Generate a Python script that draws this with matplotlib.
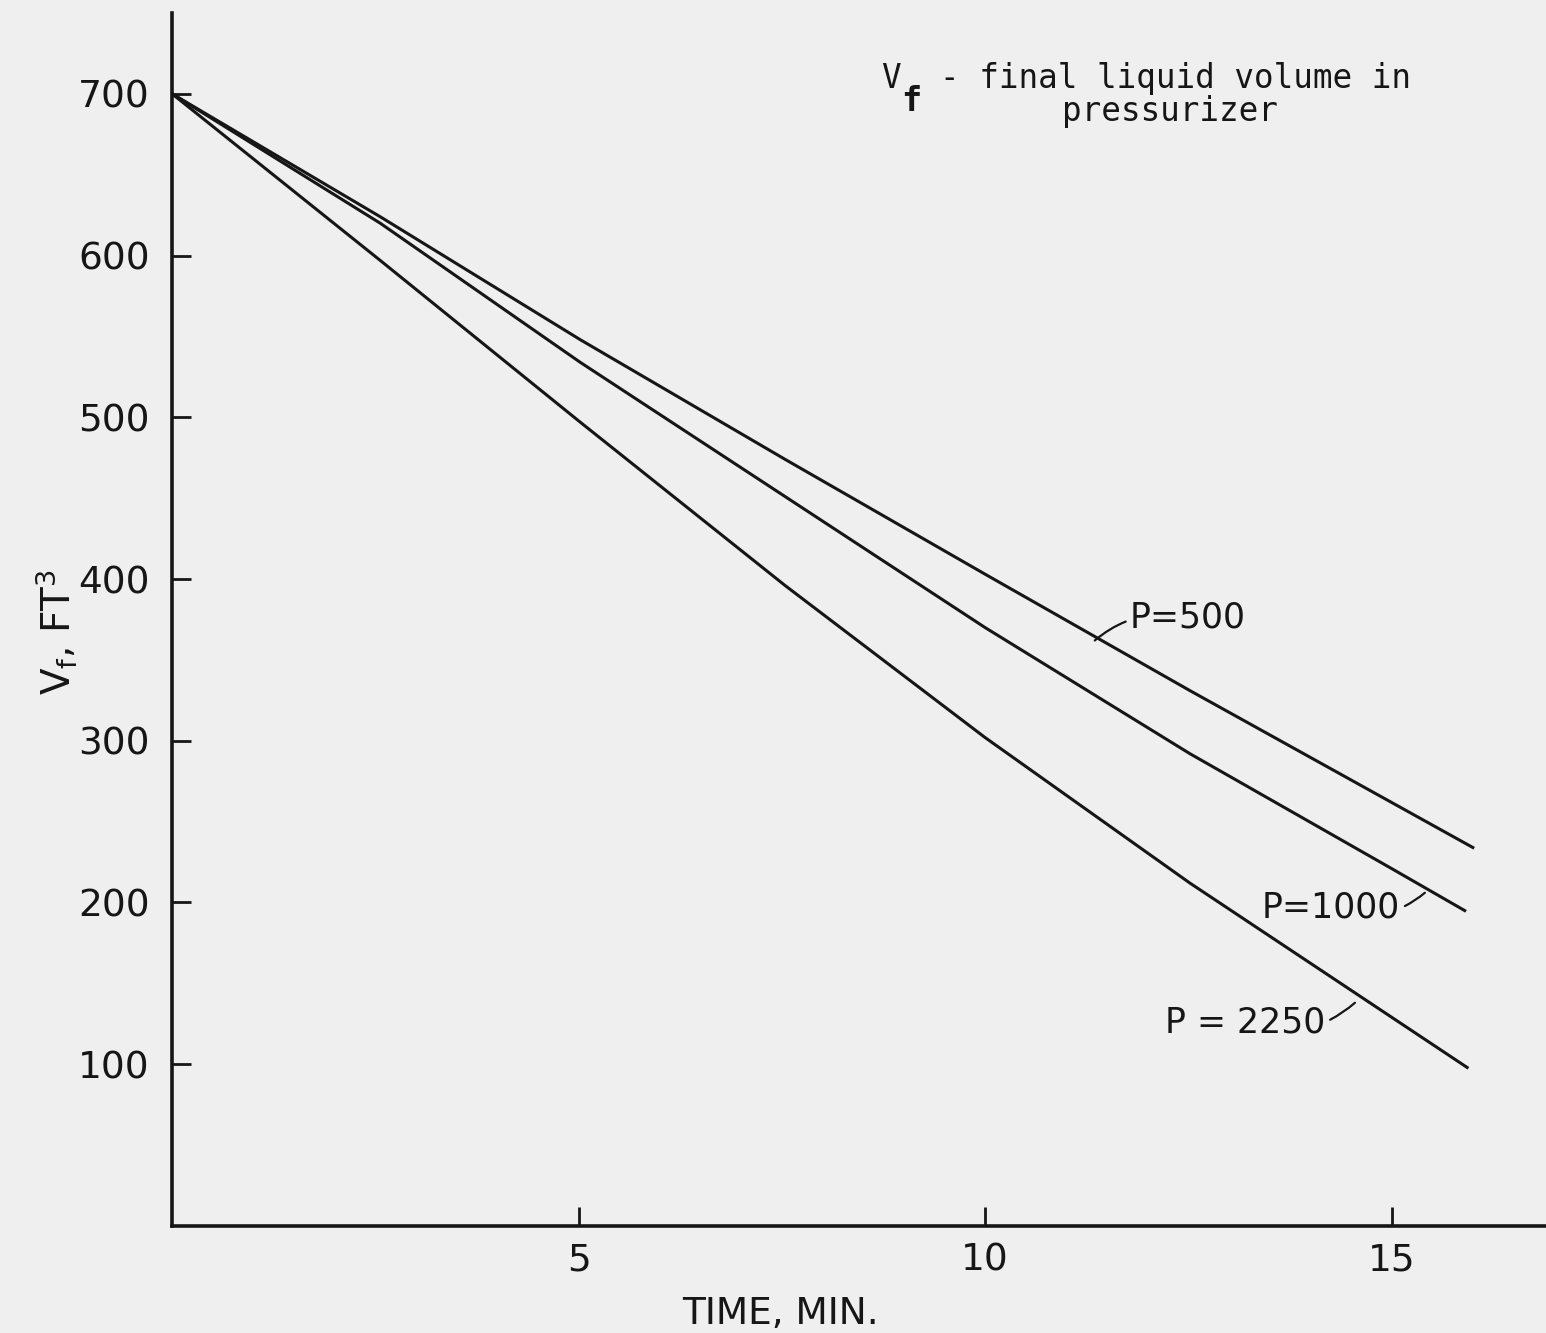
import numpy as np
import matplotlib.pyplot as plt

# values
time_min = [0, 2.56, 5.02, 7.54, 10.0, 12.52, 16.0]
vf_p500 = [700, 624, 548, 474, 403, 331, 234]

time_p1000 = [0, 2.56, 5.02, 7.54, 10.0, 12.52, 15.0, 15.9]
vf_p1000 = [700, 620, 534, 451, 370, 292, 221, 195]

time_p2250 = [0, 2.56, 5.02, 7.54, 10.0, 12.52, 15.93]
vf_p2250 = [700, 597, 497, 396, 302, 212, 98]

xticks = [5, 10, 15]
yticks = [100, 200, 300, 400, 500, 600, 700]

bg = '#efefef'
ink = '#161616'
sans = ['DejaVu Sans']
mono = ['DejaVu Sans Mono']

fig = plt.figure(figsize=(15.46, 13.33), dpi=100, facecolor=bg)
ax = fig.add_axes([0.1113, 0.0803, 0.8887, 0.910])
ax.set_facecolor(bg)

ax.plot(time_min, vf_p500, color=ink, lw=2.2)
ax.plot(time_p1000, vf_p1000, color=ink, lw=2.2)
ax.plot(time_p2250, vf_p2250, color=ink, lw=2.2)

ax.set_xlim(0, 16.9)
ax.set_ylim(0, 750)
ax.set_xticks(xticks)
ax.set_yticks(yticks)
ax.set_xticklabels([str(t) for t in xticks], fontfamily=sans, fontsize=27)
ax.set_yticklabels([str(t) for t in yticks], fontfamily=sans, fontsize=27)
ax.tick_params(axis='both', direction='in', length=14, width=2, colors=ink)
ax.tick_params(axis='x', pad=12)
ax.tick_params(axis='y', pad=16)

for side in ['top', 'right']:
    ax.spines[side].set_visible(False)
for side in ['left', 'bottom']:
    ax.spines[side].set_linewidth(2.6)
    ax.spines[side].set_color(ink)

ax.set_xlabel('TIME, MIN.', fontfamily=sans, fontsize=27, color=ink)
ax.xaxis.set_label_coords(0.443, -0.058)
ax.set_ylabel(r'V$_\mathregular{f}$, FT$^\mathregular{3}$', fontfamily=sans,
              fontsize=28, color=ink)
ax.yaxis.set_label_coords(-0.068, 0.49)

# curve labels with small leader lines
ax.annotate('P=500', xy=(11.35, 362), xytext=(11.78, 376), fontfamily=sans,
            fontsize=25, color=ink, va='center', ha='left',
            arrowprops=dict(arrowstyle='-', color=ink, lw=1.6,
                            connectionstyle='arc3,rad=0.25', shrinkA=1, shrinkB=0))
ax.annotate('P=1000', xy=(15.41, 206), xytext=(15.1, 197), fontfamily=sans,
            fontsize=25, color=ink, va='center', ha='right',
            arrowprops=dict(arrowstyle='-', color=ink, lw=1.6,
                            connectionstyle='arc3,rad=0.3', shrinkA=2, shrinkB=0))
ax.annotate('P = 2250', xy=(14.55, 138), xytext=(14.18, 126), fontfamily=sans,
            fontsize=25, color=ink, va='center', ha='right',
            arrowprops=dict(arrowstyle='-', color=ink, lw=1.6,
                            connectionstyle='arc3,rad=0.3', shrinkA=2, shrinkB=0))

# note in the top right corner
fig.text(0.570, 0.941, 'V', fontfamily=mono, fontsize=23.5, color=ink, va='center')
fig.text(0.583, 0.924, 'f', fontfamily=mono, fontsize=24, color=ink, va='center',
         fontweight='bold')
fig.text(0.608, 0.941, '- final liquid volume in', fontfamily=mono, fontsize=23.5,
         color=ink, va='center')
fig.text(0.757, 0.916, 'pressurizer', fontfamily=mono, fontsize=23.5, color=ink,
         va='center', ha='center')

fig.savefig('out.png', dpi=100, facecolor=bg)
